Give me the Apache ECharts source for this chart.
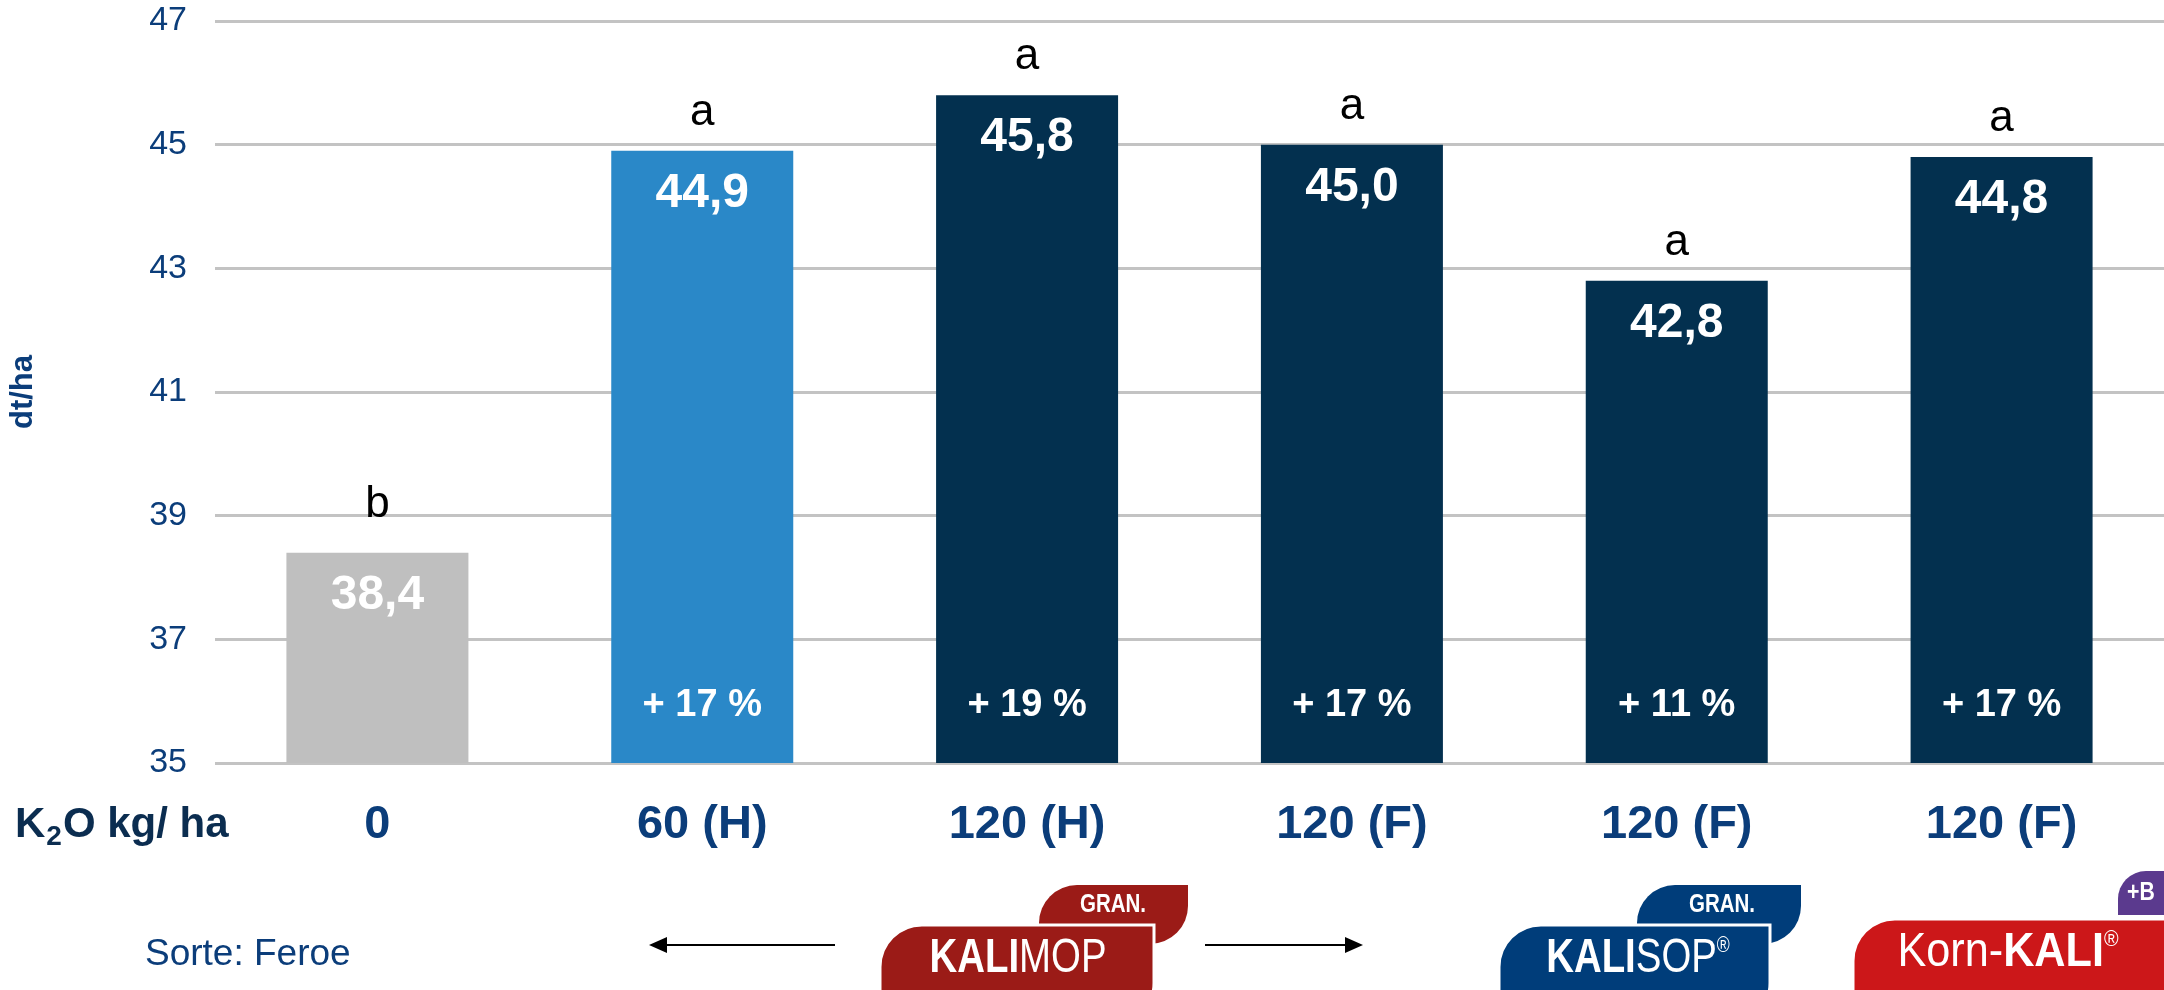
<!DOCTYPE html>
<html>
<head>
<meta charset="utf-8">
<script src="https://cdn.jsdelivr.net/npm/echarts@6/dist/echarts.min.js"></script>
<style>
  html, body { margin: 0; padding: 0; background: #ffffff; }
  #chart { width: 2164px; height: 990px; }
</style>
</head>
<body>
<div id="chart"></div>
<script>
// ---- data ----
var categories = ['0', '60 (H)', '120 (H)', '120 (F)', '120 (F)', '120 (F)'];
var yieldValues = [38.4, 44.9, 45.8, 45.0, 42.8, 44.8];
var significance = ['b', 'a', 'a', 'a', 'a', 'a'];
var increaseLabels = ['', '+ 17 %', '+ 19 %', '+ 17 %', '+ 11 %', '+ 17 %'];
var barColors = ['#BFBFBF', '#2A88C8', '#03304F', '#03304F', '#03304F', '#03304F'];
var yTicks = { min: 35, max: 47, interval: 2 };

var FONT = '"Liberation Sans", Arial, sans-serif';
var AXIS_BLUE = '#0B3D7A';

var chart = echarts.init(document.getElementById('chart'), null, { renderer: 'canvas' });

var mainData = yieldValues.map(function (v, i) {
  var item = { value: v, itemStyle: { color: barColors[i] } };
  // letters with ascenders ('b') sit a little higher in the reference
  if (significance[i] === 'b') { item.label = { distance: 26 }; }
  return item;
});

function logoText(x, y, rich, text, sx) {
  return {
    type: 'text', x: x, y: y, scaleX: sx, scaleY: 1,
    style: { text: text, align: 'center', verticalAlign: 'middle', rich: rich }
  };
}

var logoRich = {
  k: { fontFamily: FONT, fontWeight: 'bold', fontSize: 48, fill: '#ffffff' },
  m: { fontFamily: FONT, fontWeight: 'normal', fontSize: 48, fill: '#ffffff' },
  r: { fontFamily: FONT, fontSize: 22, fill: '#ffffff', verticalAlign: 'top', lineHeight: 22 }
};

var option = {
  backgroundColor: '#ffffff',
  animation: false,
  grid: { left: 209, right: 0, top: 21, bottom: 227, containLabel: false },
  xAxis: {
    type: 'category',
    data: categories,
    axisLine: { show: false },
    axisTick: { show: false },
    axisLabel: {
      margin: 39,
      color: AXIS_BLUE,
      fontFamily: FONT,
      fontWeight: 'bold',
      fontSize: 47
    }
  },
  yAxis: {
    type: 'value',
    min: yTicks.min,
    max: yTicks.max,
    interval: yTicks.interval,
    name: 'dt/ha',
    nameLocation: 'middle',
    nameRotate: 90,
    nameGap: 176,
    nameTextStyle: { color: AXIS_BLUE, fontFamily: FONT, fontWeight: 'bold', fontSize: 31 },
    axisLine: { show: false },
    axisTick: { show: false },
    axisLabel: { margin: 28, color: AXIS_BLUE, fontFamily: FONT, fontSize: 34 },
    splitLine: { show: true, lineStyle: { color: '#C3C3C3', width: 3 } }
  },
  series: [
    {
      type: 'bar',
      data: mainData,
      barWidth: 182,
      barGap: '-100%',
      label: {
        show: true,
        position: 'top',
        distance: 16,
        color: '#000000',
        fontFamily: FONT,
        fontSize: 44,
        formatter: function (p) { return significance[p.dataIndex]; }
      }
    },
    {
      type: 'bar',
      data: yieldValues,
      barWidth: 182,
      barGap: '-100%',
      silent: true,
      itemStyle: { color: 'rgba(0,0,0,0)' },
      label: {
        show: true,
        position: 'insideTop',
        distance: 19,
        color: '#ffffff',
        fontFamily: FONT,
        fontWeight: 'bold',
        fontSize: 48,
        formatter: function (p) { return p.value.toFixed(1).replace('.', ','); }
      }
    },
    {
      type: 'bar',
      data: yieldValues,
      barWidth: 182,
      barGap: '-100%',
      silent: true,
      itemStyle: { color: 'rgba(0,0,0,0)' },
      label: {
        show: true,
        position: 'insideBottom',
        distance: 38,
        color: '#ffffff',
        fontFamily: FONT,
        fontWeight: 'bold',
        fontSize: 38,
        formatter: function (p) { return increaseLabels[p.dataIndex]; }
      }
    }
  ],
  graphic: [
    // K2O kg/ ha
    {
      type: 'text', left: 15, top: 804,
      style: {
        text: '{b|K}{s|2}{b|O kg/ ha}',
        rich: {
          b: { fontFamily: FONT, fontWeight: 'bold', fontSize: 42, fill: '#0B2D50', lineHeight: 52 },
          s: { fontFamily: FONT, fontWeight: 'bold', fontSize: 28, fill: '#0B2D50', verticalAlign: 'bottom', lineHeight: 26, padding: [0, 1, 0, 1] }
        }
      }
    },
    // Sorte
    {
      type: 'text', left: 145, top: 936,
      style: { text: 'Sorte: Feroe', fontFamily: FONT, fontSize: 37, fill: AXIS_BLUE }
    },
    // left arrow
    { type: 'line', shape: { x1: 664, y1: 945, x2: 835, y2: 945 }, style: { stroke: '#000', lineWidth: 2 } },
    { type: 'polygon', shape: { points: [[649, 945], [667, 937], [667, 953]] }, style: { fill: '#000' } },
    // right arrow
    { type: 'line', shape: { x1: 1205, y1: 945, x2: 1348, y2: 945 }, style: { stroke: '#000', lineWidth: 2 } },
    { type: 'polygon', shape: { points: [[1363, 945], [1345, 937], [1345, 953]] }, style: { fill: '#000' } },

    // KALIMOP logo
    { type: 'rect', shape: { x: 1039, y: 885, width: 149, height: 59, r: [38, 0, 38, 0] }, style: { fill: '#9B1B17' } },
    { type: 'rect', shape: { x: 880, y: 925, width: 274, height: 100, r: [42, 0, 42, 0] }, style: { fill: '#9B1B17', stroke: '#ffffff', lineWidth: 3 } },
    { type: 'text', x: 1113, y: 905, scaleX: 0.82, style: { text: 'GRAN.', fontFamily: FONT, fontWeight: 'bold', fontSize: 25, fill: '#ffffff', align: 'center', verticalAlign: 'middle' } },
    logoText(1018, 959, logoRich, '{k|KALI}{m|MOP}', 0.8),

    // KALISOP logo
    { type: 'rect', shape: { x: 1637, y: 885, width: 164, height: 59, r: [38, 0, 38, 0] }, style: { fill: '#003D7A' } },
    { type: 'rect', shape: { x: 1499, y: 925, width: 271, height: 100, r: [42, 0, 42, 0] }, style: { fill: '#003D7A', stroke: '#ffffff', lineWidth: 3 } },
    { type: 'text', x: 1722, y: 905, scaleX: 0.82, style: { text: 'GRAN.', fontFamily: FONT, fontWeight: 'bold', fontSize: 25, fill: '#ffffff', align: 'center', verticalAlign: 'middle' } },
    logoText(1638, 959, logoRich, '{k|KALI}{m|SOP}{r|®}', 0.8),

    // Korn-KALI logo
    { type: 'rect', shape: { x: 2118, y: 871, width: 60, height: 44, r: [28, 0, 0, 0] }, style: { fill: '#5B3A8E' } },
    { type: 'rect', shape: { x: 1853, y: 919, width: 330, height: 100, r: [42, 0, 42, 0] }, style: { fill: '#CC1719', stroke: '#ffffff', lineWidth: 3 } },
    { type: 'text', x: 2141, y: 893, scaleX: 0.85, style: { text: '+B', fontFamily: FONT, fontWeight: 'bold', fontSize: 25, fill: '#ffffff', align: 'center', verticalAlign: 'middle' } },
    logoText(2008, 953, logoRich, '{m|Korn-}{k|KALI}{r|®}', 0.9)
  ]
};

chart.setOption(option);
</script>
</body>
</html>
